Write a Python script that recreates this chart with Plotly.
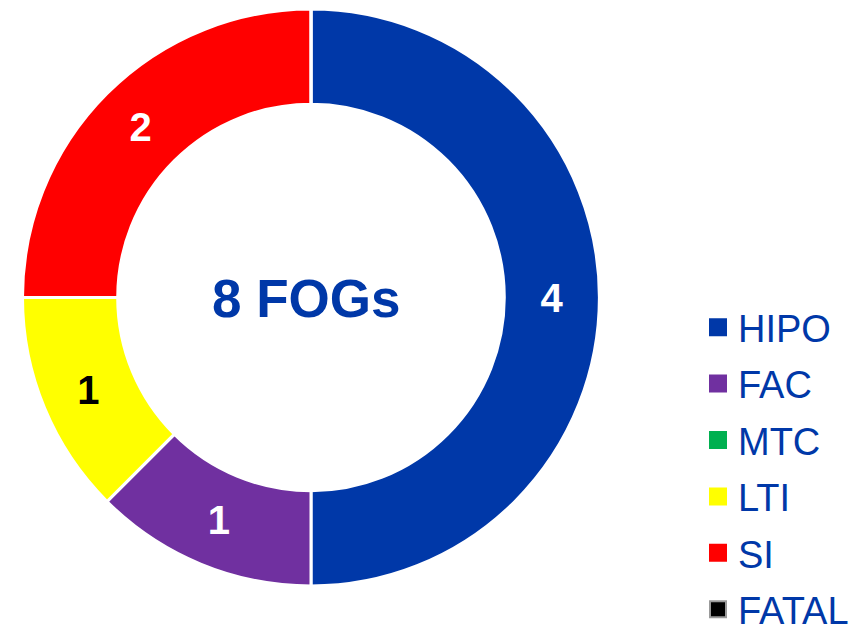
import plotly.graph_objects as go

labels = ["HIPO", "FAC", "MTC", "LTI", "SI", "FATAL"]
values = [4, 1, 0, 1, 2, 0]
colors = ["#0038A8", "#7030A0", "#00B050", "#FFFF00", "#FF0000", "#000000"]
text_colors = ["white", "white", "white", "black", "white", "white"]
legend_edge = ["#0038A8", "#7030A0", "#00B050", "#FFFF00", "#FF0000", "#9a9a9a"]
center_label = "8 FOGs"

BLUE = "#0038A8"
FONT = "Liberation Sans, Arial, sans-serif"

# page body adds an 8px margin, so the figure is a bit smaller than the window
W, H = 850, 626
cx, cy, r = 303, 289.5, 288.5

fig = go.Figure()
fig.add_trace(
    go.Pie(
        labels=labels,
        values=values,
        sort=False,
        direction="clockwise",
        rotation=0,
        hole=0.67,
        marker=dict(colors=colors, line=dict(color="white", width=3)),
        textinfo="value",
        textposition="inside",
        insidetextorientation="horizontal",
        insidetextfont=dict(family=FONT, size=40, color=text_colors, weight="bold"),
        domain=dict(
            x=[(cx - r) / W, (cx + r) / W],
            y=[(H - cy - r) / H, (H - cy + r) / H],
        ),
        hoverinfo="label+value",
        showlegend=False,
    )
)

# legend entries, one per category
for label, color, edge in zip(labels, colors, legend_edge):
    fig.add_trace(
        go.Scatter(
            x=[None],
            y=[None],
            mode="markers",
            name=label,
            legendgroup=label,
            marker=dict(symbol="square", size=16, color=color, line=dict(color=edge, width=2)),
        )
    )

fig.add_annotation(
    text=f"<b>{center_label}</b>",
    x=298.5 / W,
    y=(H - 290) / H,
    xref="paper",
    yref="paper",
    showarrow=False,
    font=dict(family=FONT, size=53, color=BLUE),
)

fig.update_layout(
    width=W,
    height=H,
    # legend must not shrink the plot area (pie domain is relative to it)
    margin=dict(l=0, r=0, t=0, b=0, autoexpand=False),
    paper_bgcolor="white",
    plot_bgcolor="white",
    xaxis=dict(visible=False),
    yaxis=dict(visible=False),
    showlegend=True,
    legend=dict(
        x=690 / W,
        xanchor="left",
        y=(H - 288) / H,
        yanchor="top",
        tracegroupgap=4,
        font=dict(family=FONT, size=38, color=BLUE),
        bgcolor="rgba(0,0,0,0)",
    ),
)

fig.write_html("out.html")
